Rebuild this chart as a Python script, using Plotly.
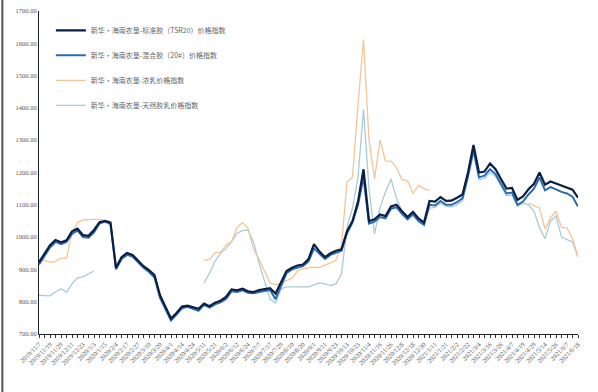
import plotly.graph_objects as go

# x-axis category labels (every 8 trading days); data sampled every half label interval
tick_labels = ["2019/11/7","2019/11/19","2019/11/29","2019/12/11","2019/12/23","2020/1/3","2020/1/15",
               "2020/2/4","2020/2/17","2020/2/27","2020/3/10","2020/3/20","2020/4/1","2020/4/14","2020/4/24",
               "2020/5/11","2020/5/21","2020/6/2","2020/6/12","2020/6/24","2020/7/7","2020/7/17","2020/7/29",
               "2020/8/10","2020/8/20","2020/9/1","2020/9/11","2020/9/23","2020/10/13","2020/10/23","2020/11/4",
               "2020/11/16","2020/11/26","2020/12/8","2020/12/18","2020/12/30","2021/1/11","2021/1/21","2021/2/2",
               "2021/2/22","2021/3/4","2021/3/16","2021/3/26","2021/4/7","2021/4/19","2021/4/29","2021/5/14",
               "2021/5/26","2021/6/7","2021/6/18"]

names = ["新华·海南农垦-标准胶（TSR20）价格指数",
         "新华·海南农垦-混合胶（20#）价格指数",
         "新华·海南农垦-浓乳价格指数",
         "新华·海南农垦-天然胶乳价格指数"]

N = None
tsr20 = [922,950,975,991,984,990,1018,1026,1006,1004,1022,1046,1050,1045,905,938,951,945,928,910,
         898,882,820,782,748,765,785,788,782,778,794,786,797,803,815,838,835,840,832,830,
         836,838,842,825,860,895,905,912,915,932,978,955,938,950,958,962,1018,1050,1110,1210,
         1050,1055,1070,1065,1095,1100,1080,1062,1078,1058,1045,1112,1110,1124,1112,1113,1122,1132,1200,1285,
         1200,1203,1228,1210,1180,1150,1152,1115,1126,1148,1165,1200,1162,1172,1166,1160,1155,1147,1122]

mix20 = [915,940,968,985,978,985,1010,1020,1000,998,1015,1042,1048,1040,900,932,945,940,922,905,
         892,875,812,775,742,760,780,784,778,772,790,782,792,798,808,832,830,835,828,826,
         830,832,836,808,850,888,900,905,910,925,965,948,932,945,952,958,1012,1045,1100,1185,
         1042,1048,1062,1058,1088,1092,1072,1055,1070,1050,1038,1100,1098,1112,1100,1100,1108,1120,1190,1270,
         1185,1190,1210,1195,1165,1135,1138,1100,1110,1132,1150,1185,1145,1155,1148,1140,1135,1125,1095]

latex_conc = [930,928,922,925,935,935,1012,1045,1053,1055,1055,1055,1052,1048,N,N,N,N,N,N,
              N,N,N,N,N,N,N,N,N,N,928,930,952,953,975,985,1030,1045,1028,962,
              932,895,858,852,857,865,873,895,902,905,907,906,912,920,928,975,1170,1185,1410,1612,
              1300,1180,1300,1235,1235,1215,1178,1175,1135,1160,1150,1145,N,N,N,N,N,N,N,N,
              N,N,N,N,N,N,N,N,N,1105,1098,1090,1025,1060,1080,1030,1028,995,940]

field_latex = [820,818,818,830,840,830,855,874,877,886,895,N,N,N,N,N,N,N,N,N,
               N,N,N,N,N,N,N,N,N,N,858,888,925,950,965,985,1012,1020,1022,985,
               920,860,808,796,840,846,846,846,846,846,852,858,855,850,856,885,1030,1090,1185,1395,
               1150,1010,1090,1140,1180,1120,1080,1062,1078,1050,1040,1090,1092,1105,1095,1094,1100,1112,1180,1260,
               1178,1182,1200,1188,1158,1128,1130,1095,1105,1100,1080,1030,995,1050,1065,1000,992,985,938]

step = 0.5
x = [i * step for i in range(len(tsr20))]

colors = ["#0b1f45", "#2a6bb0", "#f5c49a", "#a9cbd9"]
widths = [2.2, 2.0, 1.3, 1.3]

fig = go.Figure()
series = [tsr20, mix20, latex_conc, field_latex]
order = [3, 2, 1, 0]  # light series underneath, dark on top
for k in order:
    fig.add_trace(go.Scatter(x=x, y=series[k], mode="lines", name=names[k], legendgroup="g%d" % k,
                             legendrank=k + 1,
                             line=dict(color=colors[k], width=widths[k]),
                             connectgaps=False))

font_fam = "Liberation Serif, Noto Sans CJK SC, serif"
tickvals = [i * step for i in range(2 * (len(tick_labels) - 1) + 1)]
ticktext = [tick_labels[int(v)] if float(v).is_integer() else "" for v in tickvals]

fig.update_layout(
    width=598, height=392,
    margin=dict(l=39, r=20, t=11, b=58, autoexpand=False),
    paper_bgcolor="white", plot_bgcolor="white",
    showlegend=True,
    legend=dict(x=0.022, y=0.985, xanchor="left", yanchor="top",
                traceorder="grouped", tracegroupgap=6,
                font=dict(family="Noto Sans CJK SC", size=7, color="#666666"),
                bgcolor="rgba(0,0,0,0)", itemwidth=30),
    xaxis=dict(range=[0, 49], tickmode="array", tickvals=tickvals, ticktext=ticktext,
               tickangle=-45, ticks="outside", ticklen=3, tickcolor="#333333", automargin=False,
               showline=True, linecolor="#222222", linewidth=1, showgrid=False, zeroline=False,
               tickfont=dict(family=font_fam, size=6.5, color="#555555")),
    yaxis=dict(range=[700, 1700], dtick=100, tickformat=".2f", ticks="", automargin=False,
               showline=True, linecolor="#222222", linewidth=1, showgrid=False, zeroline=False,
               tickfont=dict(family=font_fam, size=6.5, color="#555555")),
    shapes=[dict(type="line", xref="paper", yref="paper", x0=-0.068, x1=-0.068, y0=-0.18, y1=1.034,
                 line=dict(color="#555555", width=2))],
)

fig.write_html("out.html", config={"displayModeBar": False},
               post_script="document.body.style.margin='0';document.body.style.overflow='hidden';")
